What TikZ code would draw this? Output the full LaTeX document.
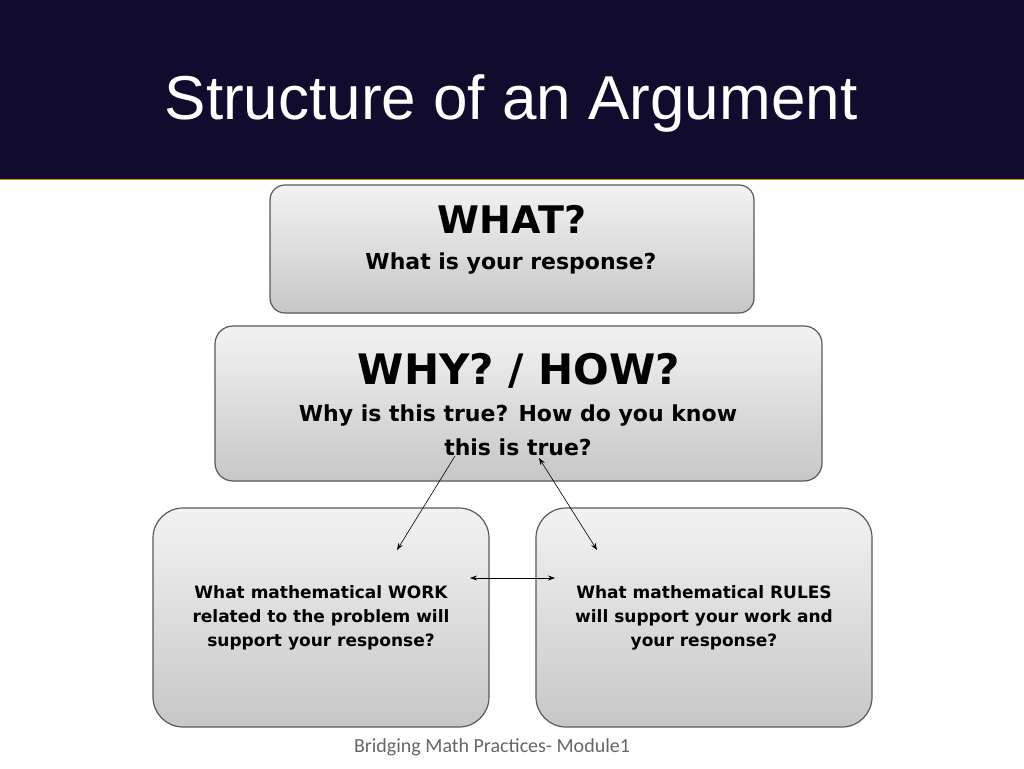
\documentclass[tikz,border=0pt]{standalone}
\usepackage{fontspec}
\setmainfont{Liberation Sans}
\newfontfamily\foot{Carlito}
\newfontfamily\heavy{DejaVu Sans}
\usetikzlibrary{arrows.meta}
\definecolor{navy}{HTML}{110C2E}
\tikzset{
 gbox/.style={draw=black!65,line width=1.2pt,top color=black!5,bottom color=black!22,rounded corners=#1},
 txt/.style={align=center,text=black},
 arr/.style={line width=0.6pt,-{Stealth[length=7pt,width=5pt]}},
 darr/.style={line width=0.6pt,{Stealth[length=7pt,width=5pt]}-{Stealth[length=7pt,width=5pt]}}
}
\begin{document}
\begin{tikzpicture}[x=1pt,y=-1pt]
\useasboundingbox (0,0) rectangle (1024,768);
\fill[white] (0,0) rectangle (1024,768);
\fill[navy] (0,0) rectangle (1024,179);
\draw[color=orange!60!brown,line width=0.8pt] (0,179.5) -- (1024,179.5);
\node[text=white,font=\fontsize{62}{70}\selectfont] (title) at (511,103) {Structure of an Argument};
\draw[gbox=15pt] (270,185) rectangle (754,313);
\node[txt,font=\heavy\bfseries\fontsize{38}{44}\selectfont] (what) at (512,219) {WHAT?};
\node[txt,font=\heavy\bfseries\fontsize{22}{28}\selectfont] (whatq) at (511,264) {What is your response?};
\draw[gbox=18pt] (215,326) rectangle (822,481);
\node[txt,font=\heavy\bfseries\fontsize{42}{48}\selectfont] (why) at (519,371) {WHY? / HOW?};
\node[txt,font=\heavy\bfseries\fontsize{22}{34}\selectfont] (whyq) at (518,430) {Why is this true? How do you know\\this is true?};
\draw[gbox=30pt] (153,508) rectangle (489,727);
\draw[gbox=30pt] (536,508) rectangle (872,727);
\node[txt,font=\heavy\bfseries\fontsize{17}{24}\selectfont] (work) at (321,618) {What mathematical WORK\\related to the problem will\\support your response?};
\node[txt,font=\heavy\bfseries\fontsize{17}{24}\selectfont] (rules) at (704,618) {What mathematical RULES\\will support your work and\\your response?};
\coordinate (a1) at (455,456); \coordinate (b1) at (397,550);
\coordinate (a2) at (539,458); \coordinate (b2) at (597,550);
\coordinate (a3) at (470,578); \coordinate (b3) at (555,578);
\draw[arr] (a1) -- (b1);
\draw[darr] (a2) -- (b2);
\draw[darr] (a3) -- (b3);
\node[text=black!60,font=\foot\fontsize{20}{24}\selectfont] (footer) at (492,747) {Bridging Math Practices- Module1};
\end{tikzpicture}
\end{document}
